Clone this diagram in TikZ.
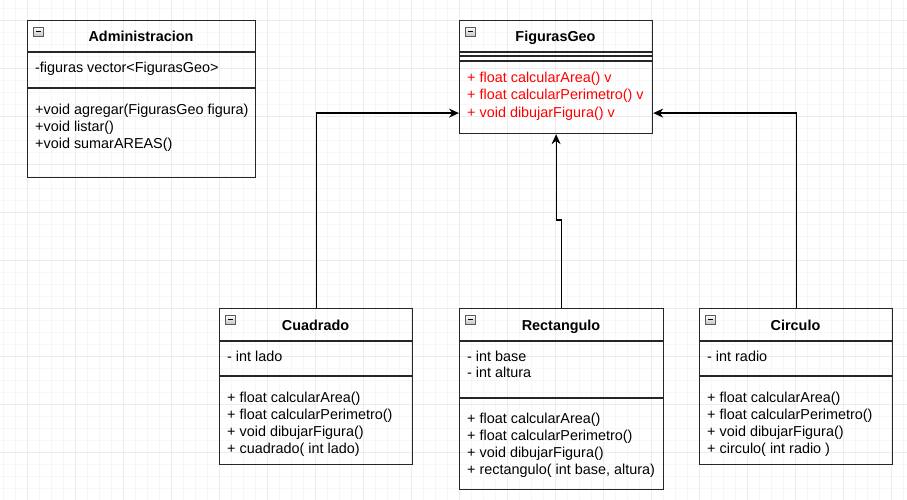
\documentclass[tikz,border=0pt]{standalone}
\usepackage{fontspec}
\setmainfont{Liberation Sans}
\usetikzlibrary{arrows.meta}

\tikzset{
  collapse/.pic={
    \draw[gray!70!black,line width=0.6pt,top color=white,bottom color=gray!45] (0,0) rectangle (10,9);
    \draw[line width=1.2pt] (2.5,4.5) -- (7.5,4.5);
  }
}

\begin{document}
\begin{tikzpicture}[x=1pt,y=-1pt,
  cls/.style={draw=black!85,line width=1.2pt,anchor=north west,inner sep=0pt},
  sep/.style={draw=black!85,line width=1.2pt},
  ttl/.style={font=\fontsize{14.4}{16}\selectfont\bfseries,anchor=base,inner sep=0pt},
  mem/.style={font=\fontsize{14.4}{16.7}\selectfont,anchor=base west,inner sep=0pt,align=left},
  inh/.style={-{Stealth[length=10pt,width=9pt]},line width=1.2pt},
  minorgrid/.style={gray!6,line width=0.8pt},
  majorgrid/.style={gray!15,line width=0.8pt}
]
  \useasboundingbox (0,0) rectangle (907,500);
  \fill[white] (0,0) rectangle (907,500);
  % grid
  \foreach \x in {3,15,...,903} \draw[minorgrid] (\x,0) -- (\x,500);
  \foreach \y in {8,20,...,500} \draw[minorgrid] (0,\y) -- (907,\y);
  \foreach \x in {27,75,...,891} \draw[majorgrid] (\x,0) -- (\x,500);
  \foreach \y in {20,68,...,500} \draw[majorgrid] (0,\y) -- (907,\y);

  % classes
  \node[cls,minimum width=228pt,minimum height=157pt] (adm) at (27,20) {};
  \node[cls,minimum width=193pt,minimum height=113pt] (fig) at (459,20) {};
  \node[cls,minimum width=193pt,minimum height=156pt] (cua) at (219,308) {};
  \node[cls,minimum width=204pt,minimum height=181pt] (rec) at (459,308) {};
  \node[cls,minimum width=193pt,minimum height=156pt] (cir) at (699,308) {};

  \draw[sep] (27,52) -- (255,52);
  \draw[sep] (27,88) -- (255,88);
  \draw[sep] (459,52) -- (652,52);
  \draw[sep] (459,56) -- (652,56);
  \draw[sep] (459,61) -- (652,61);
  \draw[sep] (219,341) -- (412,341);
  \draw[sep] (219,376) -- (412,376);
  \draw[sep] (459,341) -- (663,341);
  \draw[sep] (459,398) -- (663,398);
  \draw[sep] (699,341) -- (892,341);
  \draw[sep] (699,376) -- (892,376);

  \pic at (33,27) {collapse};
  \pic at (465,27) {collapse};
  \pic at (225,315) {collapse};
  \pic at (465,315) {collapse};
  \pic at (705,315) {collapse};

  \node[ttl] (adm-t) at (141,42) {Administracion};
  \node[ttl] (fig-t) at (555.5,42) {FigurasGeo};
  \node[ttl] (cua-t) at (315.5,330) {Cuadrado};
  \node[ttl] (rec-t) at (561,330) {Rectangulo};
  \node[ttl] (cir-t) at (795.5,330) {Circulo};

  % members (base = last line)
  \node[mem] (adm-a) at (35,73) {-figuras vector<FigurasGeo>};
  \node[mem,font=\fontsize{14.4}{16.5}\selectfont] (adm-m) at (35,148)
    {+void agregar(FigurasGeo figura)\\+void listar()\\+void sumarAREAS()};
  \node[mem,font=\fontsize{14.4}{17.5}\selectfont,text=red] (fig-m) at (467,117.5)
    {+ float calcularArea() v\\+ float calcularPerimetro() v\\+ void dibujarFigura() v};
  \node[mem] (cua-a) at (227,361) {- int lado};
  \node[mem] (cua-m) at (227,453)
    {+ float calcularArea()\\+ float calcularPerimetro()\\+ void dibujarFigura()\\+ cuadrado( int lado)};
  \node[mem] (rec-a) at (467,377.7) {- int base\\- int altura};
  \node[mem] (rec-m) at (467,474)
    {+ float calcularArea()\\+ float calcularPerimetro()\\+ void dibujarFigura()\\+ rectangulo( int base, altura)};
  \node[mem] (cir-a) at (707,361) {- int radio};
  \node[mem] (cir-m) at (707,453)
    {+ float calcularArea()\\+ float calcularPerimetro()\\+ void dibujarFigura()\\+ circulo( int radio )};

  % inheritance
  \draw[inh] (cua.north) |- ([yshift=-36pt]fig.west);
  \draw[inh] (cir.north) |- ([yshift=-36pt]fig.east);
  \draw[inh] (rec.north) -- ++(0,-88) -| (fig.south);
\end{tikzpicture}
\end{document}
